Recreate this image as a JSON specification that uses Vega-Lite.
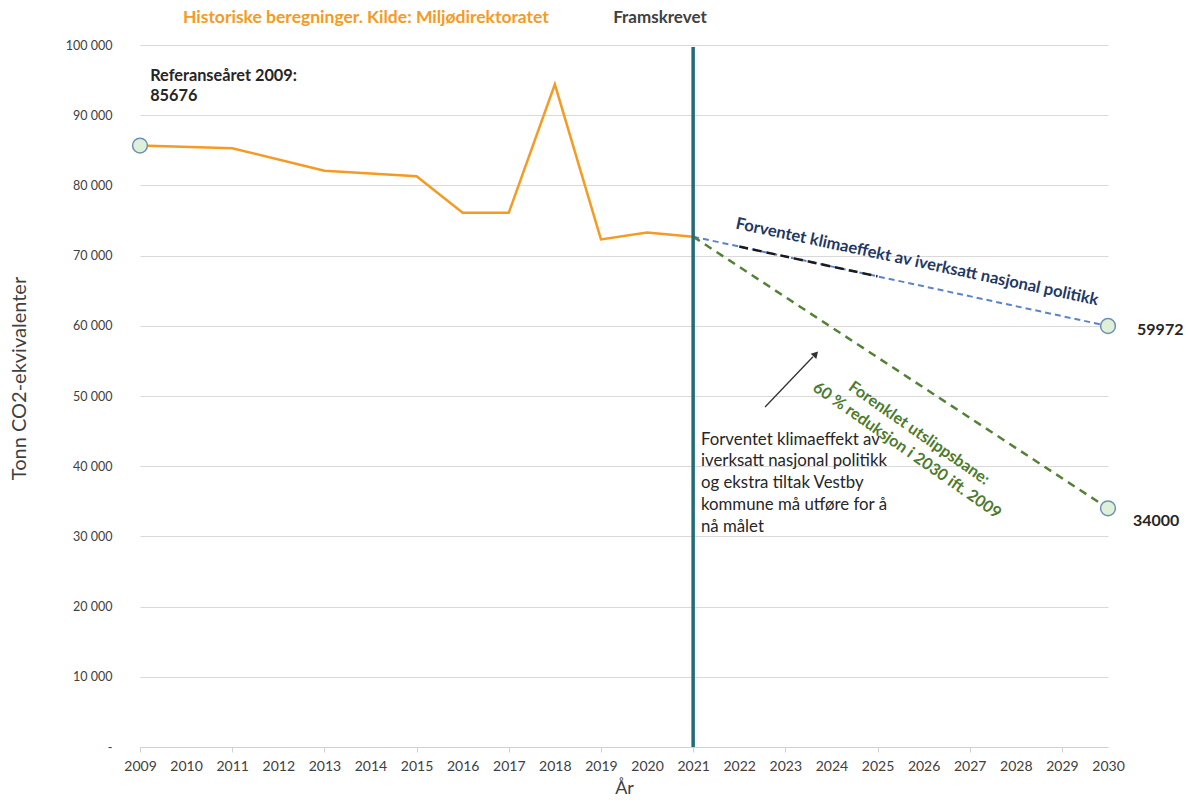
{
  "$schema": "https://vega.github.io/schema/vega-lite/v6.json",
  "width": 968,
  "height": 702,
  "autosize": "none",
  "padding": {"left": 140, "top": 45, "right": 83, "bottom": 56},
  "background": "white",
  "config": {
    "view": {"stroke": null},
    "font": "Lato",
    "axis": {"labelFont": "Lato", "titleFont": "Lato", "labelColor": "#404040", "titleColor": "#404040"}
  },
  "datasets": {
    "hist": [
      {"year": 2009, "value": 85676},
      {"year": 2011, "value": 85300},
      {"year": 2013, "value": 82100},
      {"year": 2015, "value": 81300},
      {"year": 2016, "value": 76100},
      {"year": 2017, "value": 76100},
      {"year": 2018, "value": 94400},
      {"year": 2019, "value": 72300},
      {"year": 2020, "value": 73300},
      {"year": 2021, "value": 72700}
    ],
    "proj": [
      {"series": "nasjonal", "year": 2021, "value": 72700},
      {"series": "nasjonal", "year": 2030, "value": 59972},
      {"series": "bane", "year": 2021, "value": 72700},
      {"series": "bane", "year": 2030, "value": 34000},
      {"series": "svart", "year": 2022, "value": 71290},
      {"series": "svart", "year": 2025, "value": 67040}
    ],
    "points": [
      {"year": 2009, "value": 85676},
      {"year": 2030, "value": 59972},
      {"year": 2030, "value": 34000}
    ],
    "rule": [{"year": 2021, "start": 0, "end": 99700}],
    "one": [{}]
  },
  "layer": [
    {
      "data": {"name": "hist"},
      "mark": {"type": "line", "color": "#f59a23", "strokeWidth": 2.5},
      "encoding": {
        "x": {
          "field": "year", "type": "quantitative",
          "scale": {"domain": [2009, 2030], "nice": false, "zero": false},
          "axis": {
            "title": "År", "titleFontSize": 18, "titleFontWeight": "normal", "titlePadding": 6,
            "values": [2009,2010,2011,2012,2013,2014,2015,2016,2017,2018,2019,2020,2021,2022,2023,2024,2025,2026,2027,2028,2029,2030],
            "format": "d", "labelFontSize": 14, "labelPadding": 7, "tickSize": 5,
            "tickOpacity": {"condition": {"test": "datum.value % 2 == 0", "value": 0}, "value": 1},
            "tickColor": "#d0d0d0", "domainColor": "#d0d0d0", "grid": false, "labelFlush": false
          }
        },
        "y": {
          "field": "value", "type": "quantitative",
          "scale": {"domain": [0, 100000], "nice": false},
          "axis": {
            "title": "Tonn CO2-ekvivalenter", "titleFontSize": 20, "titleFontWeight": "normal", "titlePadding": 36, "titleY": 333,
            "values": [0,10000,20000,30000,40000,50000,60000,70000,80000,90000,100000],
            "labelExpr": "datum.value == 0 ? '-' : (datum.value / 1000) + ' 000'",
            "labelFontSize": 12.5, "labelPadding": 28, "tickSize": 0, "domain": false,
            "grid": true, "gridColor": "#d9d9d9", "gridWidth": 1
          }
        }
      }
    },
    {
      "data": {"name": "proj"},
      "transform": [{"filter": "datum.series == 'nasjonal'"}],
      "mark": {"type": "line", "color": "#5b84c8", "strokeWidth": 2, "strokeDash": [6, 4]},
      "encoding": {
        "x": {"field": "year", "type": "quantitative"},
        "y": {"field": "value", "type": "quantitative"}
      }
    },
    {
      "data": {"name": "proj"},
      "transform": [{"filter": "datum.series == 'svart'"}],
      "mark": {"type": "line", "color": "#1a1a1a", "strokeWidth": 2.5, "strokeDash": [9, 5]},
      "encoding": {
        "x": {"field": "year", "type": "quantitative"},
        "y": {"field": "value", "type": "quantitative"}
      }
    },
    {
      "data": {"name": "proj"},
      "transform": [{"filter": "datum.series == 'bane'"}],
      "mark": {"type": "line", "color": "#548235", "strokeWidth": 2.5, "strokeDash": [8, 6]},
      "encoding": {
        "x": {"field": "year", "type": "quantitative"},
        "y": {"field": "value", "type": "quantitative"}
      }
    },
    {
      "data": {"name": "rule"},
      "mark": {"type": "rule", "color": "#226b79", "strokeWidth": 3.5},
      "encoding": {
        "x": {"field": "year", "type": "quantitative"},
        "y": {"field": "start", "type": "quantitative"},
        "y2": {"field": "end"}
      }
    },
    {
      "data": {"name": "points"},
      "mark": {"type": "point", "filled": true, "fill": "#dff0d8", "stroke": "#6d8fb5", "strokeWidth": 1.5, "size": 220, "opacity": 1},
      "encoding": {
        "x": {"field": "year", "type": "quantitative"},
        "y": {"field": "value", "type": "quantitative"}
      }
    },
    {
      "data": {"name": "one"},
      "mark": {"type": "rule", "color": "#333333", "strokeWidth": 1.3},
      "encoding": {
        "x": {"datum": 2022.56, "type": "quantitative"},
        "y": {"datum": 48430, "type": "quantitative"},
        "x2": {"datum": 2023.6},
        "y2": {"datum": 55600}
      }
    },
    {
      "data": {"name": "one"},
      "mark": {"type": "point", "shape": "triangle-up", "filled": true, "color": "#333333", "size": 60, "angle": 43, "opacity": 1},
      "encoding": {
        "x": {"datum": 2023.66, "type": "quantitative"},
        "y": {"datum": 56000, "type": "quantitative"}
      }
    },
    {
      "data": {"name": "one"},
      "mark": {"type": "text", "text": "Historiske beregninger. Kilde: Miljødirektoratet", "font": "Lato", "fontSize": 17.5, "fontWeight": "bold", "color": "#f59a23", "align": "center", "baseline": "middle"},
      "encoding": {
        "x": {"datum": 2013.9, "type": "quantitative"},
        "y": {"datum": 103850, "type": "quantitative"}
      }
    },
    {
      "data": {"name": "one"},
      "mark": {"type": "text", "text": "Framskrevet", "font": "Lato", "fontSize": 17, "fontWeight": "bold", "color": "#404040", "align": "center", "baseline": "middle"},
      "encoding": {
        "x": {"datum": 2020.28, "type": "quantitative"},
        "y": {"datum": 103850, "type": "quantitative"}
      }
    },
    {
      "data": {"name": "one"},
      "mark": {"type": "text", "text": ["Referanseåret 2009:", "85676"], "font": "Lato", "fontSize": 16.3, "fontWeight": "bold", "color": "#262626", "align": "left", "baseline": "top", "lineHeight": 20},
      "encoding": {
        "x": {"datum": 2009.22, "type": "quantitative"},
        "y": {"datum": 96700, "type": "quantitative"}
      }
    },
    {
      "data": {"name": "one"},
      "mark": {"type": "text", "text": "Forventet klimaeffekt av iverksatt nasjonal politikk", "font": "Lato", "fontSize": 16.5, "fontWeight": "bold", "color": "#1f3864", "align": "center", "baseline": "middle", "angle": 12},
      "encoding": {
        "x": {"datum": 2025.86, "type": "quantitative"},
        "y": {"datum": 69090, "type": "quantitative"}
      }
    },
    {
      "data": {"name": "one"},
      "mark": {"type": "text", "text": "59972", "font": "Lato", "fontSize": 16, "fontWeight": "bold", "color": "#262626", "align": "left", "baseline": "middle"},
      "encoding": {
        "x": {"datum": 2030.63, "type": "quantitative"},
        "y": {"datum": 59400, "type": "quantitative"}
      }
    },
    {
      "data": {"name": "one"},
      "mark": {"type": "text", "text": "34000", "font": "Lato", "fontSize": 16, "fontWeight": "bold", "color": "#262626", "align": "left", "baseline": "middle"},
      "encoding": {
        "x": {"datum": 2030.54, "type": "quantitative"},
        "y": {"datum": 32190, "type": "quantitative"}
      }
    },
    {
      "data": {"name": "one"},
      "mark": {"type": "text", "text": ["Forenklet utslippsbane:", "60 % reduksjon i 2030 ift. 2009"], "font": "Lato", "fontSize": 16.2, "fontWeight": "bold", "color": "#4e7a2d", "align": "center", "baseline": "middle", "angle": 35, "lineHeight": 21},
      "encoding": {
        "x": {"datum": 2025.9, "type": "quantitative"},
        "y": {"datum": 44700, "type": "quantitative"}
      }
    },
    {
      "data": {"name": "one"},
      "mark": {"type": "text", "text": ["Forventet klimaeffekt av", "iverksatt nasjonal politikk", "og ekstra tiltak Vestby", "kommune må utføre for å", "nå målet"], "font": "Lato", "fontSize": 16.8, "color": "#262626", "align": "left", "baseline": "top", "lineHeight": 21.7},
      "encoding": {
        "x": {"datum": 2021.17, "type": "quantitative"},
        "y": {"datum": 44900, "type": "quantitative"}
      }
    }
  ]
}
